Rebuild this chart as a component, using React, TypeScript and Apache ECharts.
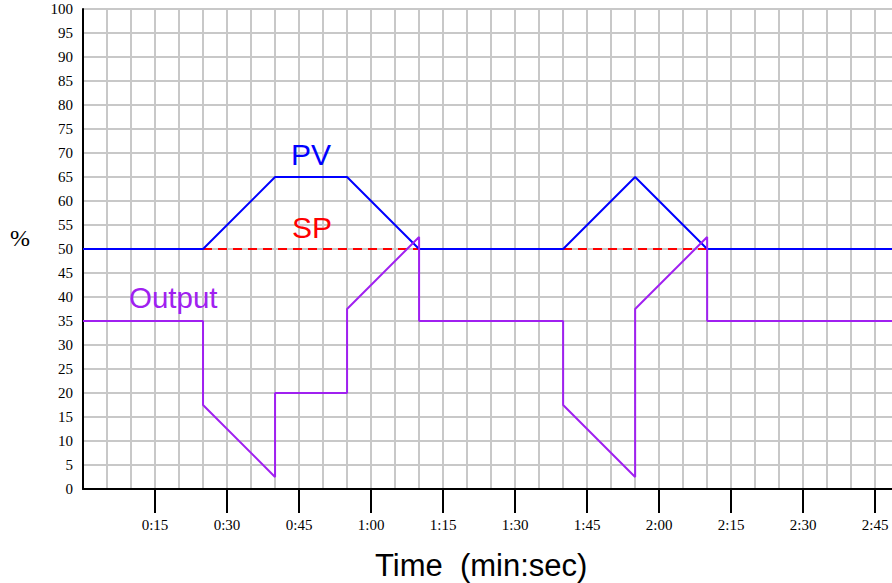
import React, { useEffect, useRef } from 'react';
import * as echarts from 'echarts';

const timeTicks = [15, 30, 45, 60, 75, 90, 105, 120, 135, 150, 165];
const pvTime = [0, 25, 40, 55, 70, 100, 115, 130, 168.5];
const pvValue = [50, 50, 65, 65, 50, 50, 65, 50, 50];
const spTime = [0, 168.5];
const spValue = [50, 50];
const outTime = [0, 25, 25, 40, 40, 55, 55, 70, 70, 100, 100, 115, 115, 130, 130, 168.5];
const outValue = [35, 35, 17.5, 2.5, 20, 20, 37.5, 52.5, 35, 35, 17.5, 2.5, 37.5, 52.5, 35, 35];

const zip = (xs: number[], ys: number[]) => xs.map((x, i) => [x, ys[i]]);

const fmtTime = (v: number) => {
  if (v <= 0 || v % 15 !== 0) return '';
  const m = Math.floor(v / 60);
  const s = v % 60;
  return `${m}:${s < 10 ? '0' + s : s}`;
};

const GRID = '#c8c8c8';
const SANS = '"Liberation Sans", Arial, sans-serif';
const SERIF = '"Liberation Serif", "Times New Roman", serif';

export default function App() {
  const ref = useRef<HTMLDivElement>(null);
  useEffect(() => {
    if (!ref.current) return;
    const chart = echarts.init(ref.current, undefined, { renderer: 'svg' });
    chart.setOption({
      animation: false,
      backgroundColor: '#ffffff',
      grid: { left: 83, right: 0, top: 9, bottom: 94, containLabel: false },
      xAxis: {
        type: 'value',
        min: 0,
        max: 168.5,
        interval: 15,
        axisLine: { show: true, lineStyle: { color: '#000', width: 2 } },
        axisTick: {
          show: true,
          customValues: timeTicks,
          length: 24,
          lineStyle: { color: '#000', width: 2 },
        },
        axisLabel: {
          customValues: timeTicks,
          formatter: fmtTime,
          margin: 28,
          color: '#000',
          fontFamily: SERIF,
          fontSize: 15,
        },
        splitLine: { show: true, lineStyle: { color: GRID, width: 2 } },
        minorTick: { show: false, splitNumber: 3 },
        minorSplitLine: { show: true, lineStyle: { color: GRID, width: 2 } },
      },
      yAxis: {
        type: 'value',
        min: 0,
        max: 100,
        interval: 5,
        axisLine: { show: true, lineStyle: { color: '#000', width: 2 } },
        axisTick: { show: false },
        axisLabel: { margin: 10, color: '#000', fontFamily: SERIF, fontSize: 15 },
        splitLine: { show: true, lineStyle: { color: GRID, width: 2 } },
      },
      series: [
        {
          name: 'SP',
          type: 'line',
          data: zip(spTime, spValue),
          showSymbol: false,
          lineStyle: { color: '#ff0000', width: 2, type: [9, 6] },
          z: 2,
        },
        {
          name: 'PV',
          type: 'line',
          data: zip(pvTime, pvValue),
          showSymbol: false,
          lineStyle: { color: '#0000ff', width: 2 },
          z: 3,
        },
        {
          name: 'Output',
          type: 'line',
          data: zip(outTime, outValue),
          showSymbol: false,
          lineStyle: { color: '#a020f0', width: 2 },
          z: 4,
        },
      ],
      graphic: {
        elements: [
          { type: 'text', z: 100, left: 291, top: 139, style: { text: 'PV', fill: '#0000ff', font: `30px ${SANS}` } },
          { type: 'text', z: 100, left: 292, top: 212, style: { text: 'SP', fill: '#ff0000', font: `30px ${SANS}` } },
          { type: 'text', z: 100, left: 129, top: 282, style: { text: 'Output', fill: '#a020f0', font: `29.5px ${SANS}` } },
          { type: 'text', z: 100, left: 10, top: 226, style: { text: '%', fill: '#000', font: `24px ${SERIF}` } },
          { type: 'text', z: 100, left: 375, top: 550, style: { text: 'Time  (min:sec)', fill: '#000', font: `31px ${SANS}` } },
        ],
      },
    });
    return () => chart.dispose();
  }, []);
  return (
    <div
      ref={ref}
      style={{ position: 'fixed', left: 0, top: 0, width: 892, height: 583, background: '#fff' }}
    />
  );
}
